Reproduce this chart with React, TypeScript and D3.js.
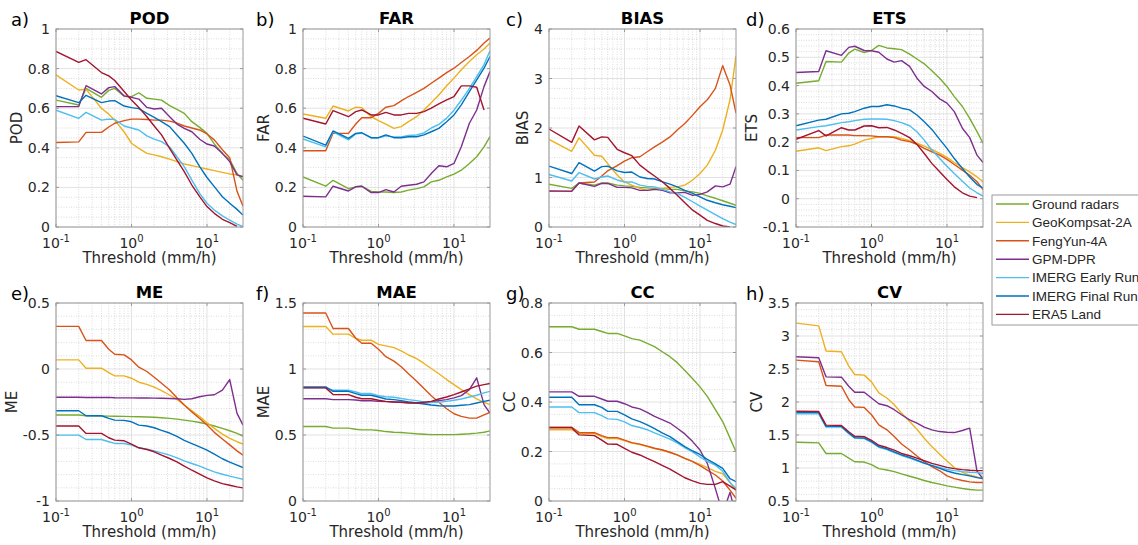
import React from 'react';
import * as d3 from 'd3';

// ---------------- DATA ----------------
const thresholds = [0.1, 0.2, 0.25, 0.4, 0.5, 0.6, 0.8, 1, 1.25, 1.6, 2, 2.5, 3.2, 4, 5, 6.3, 8, 10, 12.5, 16, 20, 25, 30];

const seriesNames = ['Ground radars', 'GeoKompsat-2A', 'FengYun-4A', 'GPM-DPR', 'IMERG Early Run', 'IMERG Final Run', 'ERA5 Land'];
const seriesColors = ['#77AC30', '#EDB120', '#D95319', '#7E2F8E', '#4DBEEE', '#0072BD', '#A2142F'];

// order: Ground, GeoK, FengYun, GPM, IMERG Early, IMERG Final, ERA5
const POD = [
  [0.641, 0.616, 0.70, 0.655, 0.69, 0.70, 0.66, 0.658, 0.678, 0.65, 0.646, 0.641, 0.613, 0.594, 0.574, 0.532, 0.503, 0.473, 0.42, 0.37, 0.34, 0.27, 0.236],
  [0.768, 0.692, 0.695, 0.60, 0.57, 0.54, 0.48, 0.423, 0.397, 0.372, 0.364, 0.355, 0.343, 0.33, 0.318, 0.31, 0.301, 0.293, 0.285, 0.276, 0.268, 0.263, 0.255],
  [0.427, 0.43, 0.478, 0.478, 0.505, 0.524, 0.537, 0.545, 0.545, 0.543, 0.54, 0.54, 0.535, 0.525, 0.51, 0.50, 0.49, 0.47, 0.44, 0.39, 0.35, 0.18, 0.105],
  [0.608, 0.608, 0.714, 0.672, 0.704, 0.709, 0.662, 0.655, 0.646, 0.604, 0.596, 0.60, 0.557, 0.52, 0.498, 0.481, 0.443, 0.419, 0.409, 0.372, 0.33, 0.263, 0.254],
  [0.59, 0.549, 0.579, 0.54, 0.545, 0.543, 0.51, 0.50, 0.49, 0.46, 0.444, 0.431, 0.404, 0.355, 0.305, 0.237, 0.17, 0.12, 0.086, 0.056, 0.035, 0.015, 0.003],
  [0.663, 0.628, 0.665, 0.628, 0.636, 0.638, 0.611, 0.603, 0.598, 0.574, 0.554, 0.532, 0.507, 0.465, 0.423, 0.372, 0.305, 0.25, 0.204, 0.153, 0.12, 0.089, 0.06],
  [0.887, 0.831, 0.845, 0.78, 0.763, 0.74, 0.684, 0.641, 0.604, 0.557, 0.51, 0.465, 0.397, 0.338, 0.28, 0.212, 0.153, 0.103, 0.069, 0.039, 0.022, 0.003, null],
];

const FAR = [
  [0.253, 0.206, 0.236, 0.194, 0.203, 0.206, 0.18, 0.177, 0.177, 0.174, 0.177, 0.186, 0.194, 0.203, 0.228, 0.236, 0.253, 0.267, 0.287, 0.321, 0.355, 0.405, 0.456],
  [0.571, 0.549, 0.611, 0.586, 0.605, 0.603, 0.557, 0.537, 0.52, 0.498, 0.507, 0.532, 0.557, 0.591, 0.628, 0.667, 0.713, 0.752, 0.794, 0.836, 0.87, 0.899, 0.929],
  [0.385, 0.385, 0.473, 0.473, 0.52, 0.552, 0.552, 0.574, 0.605, 0.613, 0.637, 0.659, 0.68, 0.70, 0.726, 0.752, 0.78, 0.802, 0.831, 0.861, 0.892, 0.929, 0.954],
  [0.155, 0.152, 0.206, 0.182, 0.203, 0.206, 0.174, 0.174, 0.189, 0.177, 0.206, 0.211, 0.216, 0.228, 0.27, 0.309, 0.304, 0.321, 0.405, 0.524, 0.591, 0.709, 0.785],
  [0.445, 0.405, 0.48, 0.44, 0.47, 0.475, 0.45, 0.45, 0.46, 0.455, 0.455, 0.462, 0.465, 0.475, 0.50, 0.518, 0.55, 0.59, 0.64, 0.70, 0.76, 0.82, 0.89],
  [0.459, 0.414, 0.485, 0.448, 0.473, 0.476, 0.451, 0.451, 0.465, 0.451, 0.451, 0.456, 0.456, 0.465, 0.481, 0.498, 0.532, 0.566, 0.617, 0.684, 0.743, 0.802, 0.861],
  [0.549, 0.52, 0.588, 0.557, 0.583, 0.591, 0.566, 0.566, 0.579, 0.566, 0.566, 0.574, 0.574, 0.583, 0.60, 0.622, 0.642, 0.659, 0.713, 0.713, 0.706, 0.591, null],
];

const BIAS = [
  [0.865, 0.78, 0.89, 0.845, 0.89, 0.89, 0.845, 0.83, 0.82, 0.80, 0.79, 0.78, 0.78, 0.76, 0.76, 0.73, 0.71, 0.68, 0.63, 0.58, 0.53, 0.48, 0.44],
  [1.77, 1.53, 1.80, 1.45, 1.43, 1.28, 1.05, 0.91, 0.845, 0.78, 0.74, 0.76, 0.78, 0.80, 0.81, 0.845, 0.95, 1.08, 1.25, 1.55, 1.96, 2.57, 3.46],
  [0.72, 0.73, 0.89, 0.91, 1.03, 1.135, 1.24, 1.33, 1.40, 1.42, 1.52, 1.62, 1.72, 1.82, 1.96, 2.09, 2.26, 2.43, 2.57, 2.80, 3.26, 2.87, 2.30],
  [0.73, 0.72, 0.89, 0.82, 0.88, 0.88, 0.80, 0.80, 0.79, 0.74, 0.74, 0.76, 0.74, 0.69, 0.69, 0.70, 0.64, 0.66, 0.71, 0.83, 0.81, 0.865, 1.22],
  [1.06, 0.93, 1.10, 0.97, 1.01, 1.03, 0.95, 0.91, 0.91, 0.845, 0.82, 0.81, 0.76, 0.71, 0.68, 0.60, 0.51, 0.42, 0.34, 0.25, 0.17, 0.10, 0.05],
  [1.23, 1.08, 1.30, 1.13, 1.22, 1.23, 1.135, 1.10, 1.11, 1.01, 0.98, 0.97, 0.91, 0.865, 0.81, 0.74, 0.68, 0.61, 0.54, 0.49, 0.45, 0.42, 0.39],
  [1.98, 1.71, 2.04, 1.76, 1.82, 1.81, 1.57, 1.50, 1.44, 1.25, 1.135, 1.03, 0.91, 0.78, 0.64, 0.49, 0.34, 0.24, 0.135, 0.07, 0.02, 0.0, null],
];

const ETS = [
  [0.408, 0.417, 0.485, 0.483, 0.515, 0.529, 0.517, 0.524, 0.542, 0.533, 0.53, 0.527, 0.511, 0.494, 0.477, 0.452, 0.426, 0.397, 0.361, 0.326, 0.284, 0.237, 0.196],
  [0.168, 0.18, 0.17, 0.184, 0.187, 0.193, 0.207, 0.213, 0.219, 0.219, 0.219, 0.213, 0.205, 0.196, 0.186, 0.174, 0.16, 0.146, 0.128, 0.11, 0.095, 0.077, 0.06],
  [0.216, 0.216, 0.225, 0.225, 0.225, 0.223, 0.223, 0.222, 0.219, 0.219, 0.216, 0.207, 0.202, 0.192, 0.178, 0.166, 0.154, 0.139, 0.121, 0.101, 0.083, 0.06, 0.032],
  [0.446, 0.45, 0.523, 0.507, 0.535, 0.539, 0.524, 0.523, 0.518, 0.494, 0.483, 0.488, 0.468, 0.426, 0.397, 0.379, 0.353, 0.338, 0.308, 0.249, 0.216, 0.154, 0.128],
  [0.243, 0.255, 0.258, 0.269, 0.272, 0.276, 0.281, 0.282, 0.282, 0.281, 0.276, 0.269, 0.258, 0.237, 0.207, 0.172, 0.142, 0.115, 0.089, 0.062, 0.038, 0.021, 0.009],
  [0.258, 0.278, 0.281, 0.30, 0.302, 0.308, 0.32, 0.326, 0.326, 0.332, 0.328, 0.32, 0.314, 0.296, 0.272, 0.245, 0.21, 0.178, 0.142, 0.107, 0.077, 0.05, 0.038],
  [0.21, 0.241, 0.222, 0.251, 0.243, 0.243, 0.257, 0.258, 0.251, 0.252, 0.243, 0.231, 0.216, 0.192, 0.16, 0.125, 0.095, 0.068, 0.042, 0.021, 0.009, 0.004, null],
];

const ME = [
  [-0.349, -0.349, -0.354, -0.356, -0.357, -0.358, -0.359, -0.361, -0.362, -0.364, -0.366, -0.369, -0.374, -0.38, -0.387, -0.395, -0.405, -0.417, -0.432, -0.45, -0.468, -0.488, -0.508],
  [0.069, 0.069, 0.006, 0.006, -0.027, -0.052, -0.052, -0.07, -0.10, -0.116, -0.138, -0.164, -0.197, -0.23, -0.273, -0.316, -0.361, -0.407, -0.45, -0.493, -0.526, -0.551, -0.569],
  [0.323, 0.323, 0.216, 0.216, 0.15, 0.112, 0.107, 0.069, 0.014, -0.019, -0.062, -0.108, -0.159, -0.217, -0.273, -0.325, -0.375, -0.425, -0.48, -0.53, -0.575, -0.62, -0.653],
  [-0.214, -0.214, -0.216, -0.216, -0.215, -0.218, -0.219, -0.219, -0.22, -0.22, -0.221, -0.222, -0.223, -0.225, -0.23, -0.225, -0.21, -0.20, -0.195, -0.16, -0.08, -0.336, -0.425],
  [-0.501, -0.501, -0.534, -0.534, -0.551, -0.564, -0.564, -0.577, -0.597, -0.607, -0.62, -0.635, -0.653, -0.673, -0.696, -0.716, -0.736, -0.759, -0.779, -0.797, -0.812, -0.825, -0.835],
  [-0.316, -0.316, -0.354, -0.354, -0.374, -0.387, -0.389, -0.40, -0.425, -0.432, -0.445, -0.465, -0.485, -0.51, -0.54, -0.565, -0.59, -0.615, -0.645, -0.68, -0.705, -0.728, -0.747],
  [-0.432, -0.432, -0.488, -0.488, -0.521, -0.539, -0.544, -0.569, -0.597, -0.61, -0.627, -0.653, -0.678, -0.703, -0.736, -0.767, -0.797, -0.825, -0.848, -0.868, -0.881, -0.893, -0.901],
];

const MAE = [
  [0.564, 0.564, 0.552, 0.552, 0.544, 0.539, 0.539, 0.534, 0.526, 0.521, 0.519, 0.514, 0.509, 0.506, 0.503, 0.503, 0.503, 0.503, 0.506, 0.509, 0.514, 0.521, 0.531],
  [1.322, 1.322, 1.264, 1.264, 1.231, 1.218, 1.218, 1.187, 1.175, 1.162, 1.137, 1.106, 1.078, 1.042, 1.004, 0.964, 0.92, 0.882, 0.844, 0.806, 0.773, 0.748, 0.73],
  [1.424, 1.424, 1.307, 1.307, 1.233, 1.195, 1.195, 1.149, 1.093, 1.06, 1.017, 0.964, 0.908, 0.852, 0.798, 0.748, 0.699, 0.661, 0.641, 0.628, 0.628, 0.653, 0.671],
  [0.775, 0.775, 0.768, 0.768, 0.765, 0.76, 0.76, 0.755, 0.753, 0.75, 0.748, 0.746, 0.744, 0.742, 0.748, 0.76, 0.768, 0.781, 0.798, 0.844, 0.933, 0.73, 0.666],
  [0.857, 0.857, 0.839, 0.839, 0.826, 0.814, 0.814, 0.798, 0.79, 0.786, 0.777, 0.768, 0.76, 0.75, 0.748, 0.748, 0.755, 0.763, 0.773, 0.788, 0.801, 0.819, 0.831],
  [0.864, 0.864, 0.831, 0.831, 0.814, 0.801, 0.801, 0.788, 0.773, 0.768, 0.76, 0.75, 0.742, 0.735, 0.727, 0.722, 0.72, 0.72, 0.725, 0.73, 0.742, 0.755, 0.763],
  [0.857, 0.857, 0.806, 0.806, 0.786, 0.775, 0.775, 0.763, 0.755, 0.75, 0.748, 0.742, 0.742, 0.748, 0.755, 0.773, 0.788, 0.806, 0.826, 0.849, 0.87, 0.882, 0.89],
];

const CC = [
  [0.704, 0.704, 0.694, 0.694, 0.685, 0.677, 0.677, 0.667, 0.656, 0.65, 0.637, 0.624, 0.602, 0.583, 0.559, 0.527, 0.494, 0.461, 0.423, 0.369, 0.321, 0.254, 0.199],
  [0.288, 0.288, 0.272, 0.272, 0.26, 0.252, 0.252, 0.244, 0.234, 0.228, 0.22, 0.212, 0.205, 0.196, 0.185, 0.172, 0.16, 0.148, 0.135, 0.12, 0.11, 0.075, 0.04],
  [0.298, 0.298, 0.277, 0.276, 0.264, 0.256, 0.256, 0.246, 0.236, 0.23, 0.222, 0.213, 0.206, 0.197, 0.186, 0.172, 0.159, 0.143, 0.125, 0.105, 0.081, 0.044, 0.011],
  [0.441, 0.441, 0.423, 0.423, 0.412, 0.403, 0.403, 0.393, 0.38, 0.372, 0.358, 0.342, 0.328, 0.315, 0.294, 0.271, 0.24, 0.206, 0.152, 0.05, -0.05, 0.035, -0.06],
  [0.38, 0.38, 0.357, 0.357, 0.345, 0.332, 0.33, 0.32, 0.305, 0.297, 0.288, 0.275, 0.262, 0.25, 0.235, 0.215, 0.198, 0.178, 0.16, 0.145, 0.12, 0.075, 0.05],
  [0.419, 0.419, 0.389, 0.389, 0.378, 0.362, 0.362, 0.348, 0.332, 0.321, 0.308, 0.292, 0.274, 0.26, 0.24, 0.22, 0.202, 0.188, 0.168, 0.15, 0.132, 0.09, 0.078],
  [0.296, 0.296, 0.267, 0.264, 0.246, 0.23, 0.229, 0.213, 0.197, 0.186, 0.172, 0.159, 0.143, 0.129, 0.112, 0.094, 0.081, 0.071, 0.067, 0.067, 0.078, 0.06, 0.045],
];

const CV = [
  [1.39, 1.38, 1.22, 1.22, 1.15, 1.095, 1.09, 1.05, 0.99, 0.97, 0.945, 0.91, 0.875, 0.845, 0.81, 0.78, 0.755, 0.73, 0.71, 0.69, 0.675, 0.665, 0.665],
  [3.195, 3.154, 2.773, 2.762, 2.544, 2.417, 2.407, 2.305, 2.137, 2.061, 1.959, 1.832, 1.705, 1.588, 1.451, 1.324, 1.207, 1.105, 1.008, 0.932, 0.891, 0.866, 0.83],
  [2.635, 2.61, 2.249, 2.239, 2.035, 1.924, 1.918, 1.807, 1.654, 1.578, 1.476, 1.364, 1.273, 1.181, 1.095, 1.019, 0.958, 0.88, 0.84, 0.81, 0.79, 0.78, 0.78],
  [2.686, 2.671, 2.381, 2.376, 2.239, 2.147, 2.147, 2.061, 1.974, 1.944, 1.883, 1.807, 1.73, 1.68, 1.618, 1.578, 1.552, 1.542, 1.537, 1.568, 1.603, 0.95, 0.84],
  [1.82, 1.82, 1.62, 1.62, 1.52, 1.45, 1.445, 1.39, 1.315, 1.28, 1.235, 1.19, 1.15, 1.11, 1.07, 1.04, 1.01, 0.98, 0.96, 0.945, 0.935, 0.93, 0.92],
  [1.84, 1.84, 1.63, 1.63, 1.53, 1.46, 1.455, 1.40, 1.325, 1.29, 1.245, 1.20, 1.16, 1.12, 1.075, 1.035, 0.995, 0.955, 0.925, 0.90, 0.88, 0.855, 0.84],
  [1.86, 1.855, 1.65, 1.645, 1.55, 1.48, 1.475, 1.42, 1.345, 1.31, 1.27, 1.22, 1.185, 1.15, 1.11, 1.07, 1.04, 1.01, 0.99, 0.975, 0.965, 0.96, 0.96],
];

const podTicks = [0, 0.2, 0.4, 0.6, 0.8, 1];
const biasTicks = [0, 1, 2, 3, 4];
const etsTicks = [-0.1, 0, 0.1, 0.2, 0.3, 0.4, 0.5, 0.6];
const meTicks = [-1, -0.5, 0, 0.5];
const maeTicks = [0, 0.5, 1, 1.5];
const ccTicks = [0, 0.2, 0.4, 0.6, 0.8];
const cvTicks = [0.5, 1, 1.5, 2, 2.5, 3, 3.5];
const xTickExps = [-1, 0, 1];

const panels = [
  { tag: 'a)', title: 'POD', data: POD, ticks: podTicks, minor: 0.05 },
  { tag: 'b)', title: 'FAR', data: FAR, ticks: podTicks, minor: 0.05 },
  { tag: 'c)', title: 'BIAS', data: BIAS, ticks: biasTicks, minor: 0.2 },
  { tag: 'd)', title: 'ETS', data: ETS, ticks: etsTicks, minor: 0.02 },
  { tag: 'e)', title: 'ME', data: ME, ticks: meTicks, minor: 0.1 },
  { tag: 'f)', title: 'MAE', data: MAE, ticks: maeTicks, minor: 0.1 },
  { tag: 'g)', title: 'CC', data: CC, ticks: ccTicks, minor: 0.05 },
  { tag: 'h)', title: 'CV', data: CV, ticks: cvTicks, minor: 0.1 },
];

// ---------------- LAYOUT ----------------
const colLeft = [56, 303, 549, 796];
const tagX = [11, 256, 506, 746];
const rowTop = [29, 303];
const PW = 187;
const PH = 198;
const FONT = '"DejaVu Sans", sans-serif';
const TXT = '#262626';

const fmt = (v: number) => String(Math.round(v * 1000) / 1000);
const labelWidth = (s: string) => {
  let w = 0;
  for (const ch of s) w += ch === '.' ? 0.318 : ch === '-' ? 0.361 : 0.636;
  return w * 14;
};

function Panel({ p, idx }: { p: any; idx: number }) {
  const col = idx % 4;
  const row = Math.floor(idx / 4);
  const L = colLeft[col];
  const T = rowTop[row];
  const x = d3.scaleLog().domain([0.1, 30]).range([L, L + PW]);
  const yDom = [p.ticks[0], p.ticks[p.ticks.length - 1]];
  const y = d3.scaleLinear().domain(yDom).range([T + PH, T]);

  const minorX: number[] = [];
  [0.1, 1, 10].forEach((dec) => {
    for (let k = 2; k <= 9; k++) {
      const v = dec * k;
      if (v < 30) minorX.push(v);
    }
  });
  const minorY: number[] = [];
  const nMinor = Math.round((yDom[1] - yDom[0]) / p.minor);
  for (let i = 1; i < nMinor; i++) {
    const v = yDom[0] + i * p.minor;
    if (!p.ticks.some((t: number) => Math.abs(t - v) < 1e-6)) minorY.push(v);
  }

  const line = d3
    .line<any>()
    .defined((d: any) => d[1] != null)
    .x((d: any) => x(d[0]))
    .y((d: any) => y(d[1]));

  const clipId = `clip${idx}`;
  const maxW = Math.max(...p.ticks.map((t: number) => labelWidth(fmt(t))));
  const yLabelX = Math.max(L - maxW - 12, 16);

  return (
    <g>
      <defs>
        <clipPath id={clipId}>
          <rect x={L} y={T} width={PW} height={PH} />
        </clipPath>
      </defs>
      <rect x={L} y={T} width={PW} height={PH} fill="#fff" />
      {minorX.map((v) => (
        <line key={'mx' + v} x1={x(v)} x2={x(v)} y1={T} y2={T + PH} stroke="#c4c4c4" strokeWidth={0.6} strokeDasharray="1,1.5" />
      ))}
      {minorY.map((v) => (
        <line key={'my' + v} x1={L} x2={L + PW} y1={y(v)} y2={y(v)} stroke="#c4c4c4" strokeWidth={0.6} strokeDasharray="1,1.5" />
      ))}
      {xTickExps.map((e) => (
        <line key={'gx' + e} x1={x(Math.pow(10, e))} x2={x(Math.pow(10, e))} y1={T} y2={T + PH} stroke="#dadada" strokeWidth={0.8} />
      ))}
      {p.ticks.map((t: number) => (
        <line key={'gy' + t} x1={L} x2={L + PW} y1={y(t)} y2={y(t)} stroke="#dadada" strokeWidth={0.8} />
      ))}
      <g clipPath={`url(#${clipId})`}>
        {p.data.map((vals: (number | null)[], si: number) => (
          <path
            key={si}
            d={line(thresholds.map((t, i) => [t, vals[i]])) || ''}
            fill="none"
            stroke={seriesColors[si]}
            strokeWidth={1.4}
            strokeLinejoin="round"
          />
        ))}
      </g>
      <rect x={L} y={T} width={PW} height={PH} fill="none" stroke="#9a9a9a" strokeWidth={1} />
      {xTickExps.map((e) => (
        <g key={'xt' + e}>
          <line x1={x(Math.pow(10, e))} x2={x(Math.pow(10, e))} y1={T + PH} y2={T + PH - 3} stroke="#9a9a9a" />
          <line x1={x(Math.pow(10, e))} x2={x(Math.pow(10, e))} y1={T} y2={T + 3} stroke="#9a9a9a" />
          <text x={x(Math.pow(10, e))} y={T + PH + 21} textAnchor="middle" fontFamily={FONT} fontSize={14} fill={TXT}>
            <tspan>10</tspan>
            <tspan dy={-6} fontSize={10}>{String(e)}</tspan>
          </text>
        </g>
      ))}
      {p.ticks.map((t: number) => (
        <g key={'yt' + t}>
          <line x1={L} x2={L + 3} y1={y(t)} y2={y(t)} stroke="#9a9a9a" />
          <line x1={L + PW} x2={L + PW - 3} y1={y(t)} y2={y(t)} stroke="#9a9a9a" />
          <text x={L - 6} y={y(t)} dy="0.36em" textAnchor="end" fontFamily={FONT} fontSize={14} fill={TXT}>
            {fmt(t)}
          </text>
        </g>
      ))}
      <text x={L + PW / 2} y={T - 5} textAnchor="middle" fontFamily={FONT} fontSize={16.5} fontWeight="bold" fill="#000">
        {p.title}
      </text>
      <text x={tagX[col]} y={T - 3} fontFamily={FONT} fontSize={18} fill="#000">
        {p.tag}
      </text>
      <text
        transform={`translate(${yLabelX},${T + PH / 2}) rotate(-90)`}
        textAnchor="middle"
        fontFamily={FONT}
        fontSize={15}
        fill={TXT}
      >
        {p.title}
      </text>
      <text x={L + PW / 2} y={T + PH + 36} textAnchor="middle" fontFamily={FONT} fontSize={15} fill={TXT}>
        Threshold (mm/h)
      </text>
    </g>
  );
}

function Legend() {
  const x0 = 992;
  const y0 = 195;
  const rowH = 18.4;
  return (
    <g>
      <rect x={x0} y={y0} width={170} height={130} fill="#fff" stroke="#9a9a9a" strokeWidth={1} />
      {seriesNames.map((n, i) => {
        const yy = y0 + 9 + i * rowH;
        return (
          <g key={n}>
            <line x1={x0 + 4} x2={x0 + 37} y1={yy} y2={yy} stroke={seriesColors[i]} strokeWidth={1.4} />
            <text x={x0 + 40} y={yy} dy="0.36em" fontFamily='"Liberation Sans", Arial, sans-serif' fontSize={13.5} fill={TXT}>
              {n}
            </text>
          </g>
        );
      })}
    </g>
  );
}

export default function App() {
  return (
    <svg
      width={1138}
      height={545}
      style={{ position: 'absolute', left: 0, top: 0, display: 'block', background: '#fff' }}
    >
      <rect x={0} y={0} width={1138} height={545} fill="#fff" />
      {panels.map((p, i) => (
        <Panel key={p.title} p={p} idx={i} />
      ))}
      <Legend />
    </svg>
  );
}
